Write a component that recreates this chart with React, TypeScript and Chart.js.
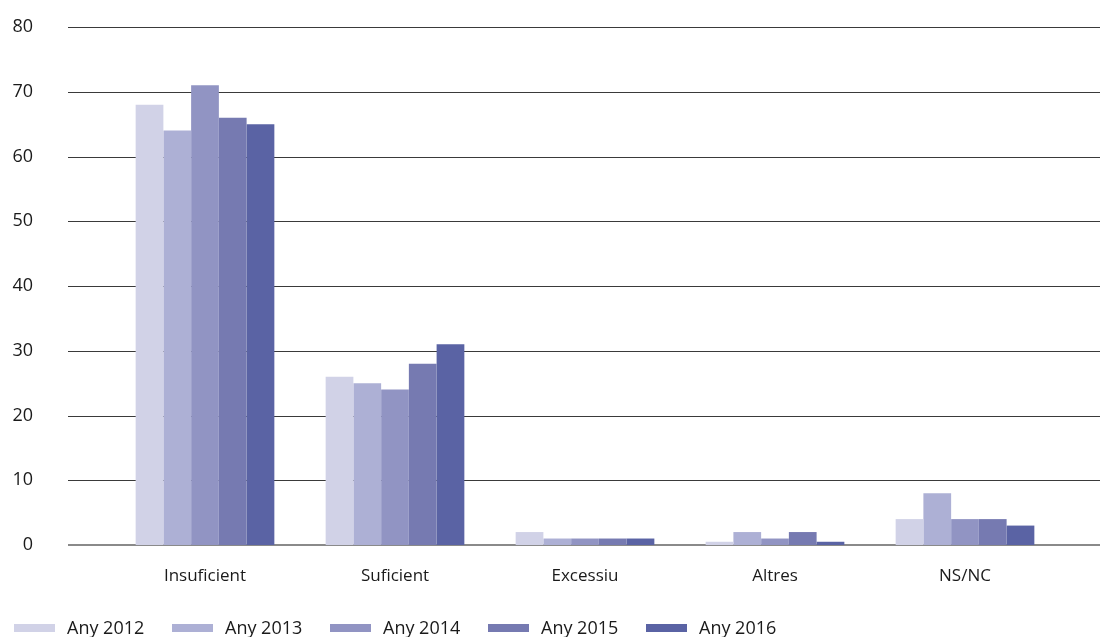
import React, { useEffect, useRef } from "react";
import { Chart, registerables } from "chart.js";

Chart.register(...registerables);

const categories = ["Insuficient", "Suficient", "Excessiu", "Altres", "NS/NC"];
const seriesNames = ["Any 2012", "Any 2013", "Any 2014", "Any 2015", "Any 2016"];
const any2012 = [68, 26, 2, 0.5, 4];
const any2013 = [64, 25, 1, 2, 8];
const any2014 = [71, 24, 1, 1, 4];
const any2015 = [66, 28, 1, 2, 4];
const any2016 = [65, 31, 1, 0.5, 3];
const colors = ["#d1d2e7", "#adb0d5", "#9194c3", "#767ab1", "#5a63a4"];
const yTicks = [0, 10, 20, 30, 40, 50, 60, 70, 80];

const FONT = "'Open Sans', 'Noto Sans', sans-serif";

const gridPlugin = {
  id: "extendedGrid",
  beforeDatasetsDraw(chart: any) {
    const { ctx, scales } = chart;
    const y = scales.y;
    ctx.save();
    yTicks.forEach((v) => {
      const py = Math.round(y.getPixelForValue(v));
      ctx.beginPath();
      if (v === 0) {
        ctx.strokeStyle = "#8a8a8a";
        ctx.lineWidth = 2;
      } else {
        ctx.strokeStyle = "#3a3a3a";
        ctx.lineWidth = 1;
      }
      const off = v === 0 ? 0 : 0.5;
      ctx.moveTo(68, py + off);
      ctx.lineTo(1100, py + off);
      ctx.stroke();
    });
    ctx.restore();
  },
};

export default function App() {
  const ref = useRef<HTMLCanvasElement>(null);
  useEffect(() => {
    document.body.style.margin = "0";
    const data = [any2012, any2013, any2014, any2015, any2016];
    const chart = new Chart(ref.current!, {
      type: "bar",
      data: {
        labels: categories,
        datasets: seriesNames.map((n, i) => ({
          label: n,
          data: data[i],
          backgroundColor: colors[i],
          borderWidth: 0,
          barPercentage: 1,
          categoryPercentage: 0.73,
        })),
      },
      options: {
        animation: false,
        responsive: false,
        layout: { padding: { top: 27, right: 40, left: 0, bottom: 42 } },
        plugins: {
          tooltip: { enabled: false },
          legend: { display: false },
        },
        scales: {
          x: {
            afterFit(scale: any) {
              scale.height = 50;
              scale.paddingLeft = 0;
              scale.paddingRight = 0;
            },
            grid: { display: false, drawTicks: false },
            border: { display: false },
            ticks: {
              color: "#1a1a1a",
              font: { family: FONT, size: 17 },
              padding: 21,
            },
          },
          y: {
            min: 0,
            max: 80,
            afterFit(scale: any) {
              scale.width = 110;
              scale.paddingTop = 0;
              scale.paddingBottom = 0;
            },
            grid: { display: false, drawTicks: false },
            border: { display: false },
            ticks: {
              stepSize: 10,
              color: "#1a1a1a",
              font: { family: FONT, size: 18 },
              padding: 77,
            },
          },
        },
      },
      plugins: [gridPlugin],
    });
    return () => chart.destroy();
  }, []);
  return (
    <div style={{ position: "relative", width: 1100, height: 637, overflow: "hidden" }}>
      <canvas ref={ref} width={1100} height={637} style={{ display: "block" }} />
      <div
        style={{
          position: "absolute",
          left: 14,
          top: 615,
          display: "flex",
          fontFamily: FONT,
          fontSize: 18,
          color: "#1a1a1a",
          lineHeight: "24px",
          whiteSpace: "nowrap",
        }}
      >
        {seriesNames.map((n, i) => (
          <div key={n} style={{ width: 158, display: "flex", alignItems: "center" }}>
            <span
              style={{
                display: "inline-block",
                width: 41,
                height: 8,
                background: colors[i],
                marginRight: 12,
                marginTop: 1,
              }}
            />
            <span>{n}</span>
          </div>
        ))}
      </div>
    </div>
  );
}
